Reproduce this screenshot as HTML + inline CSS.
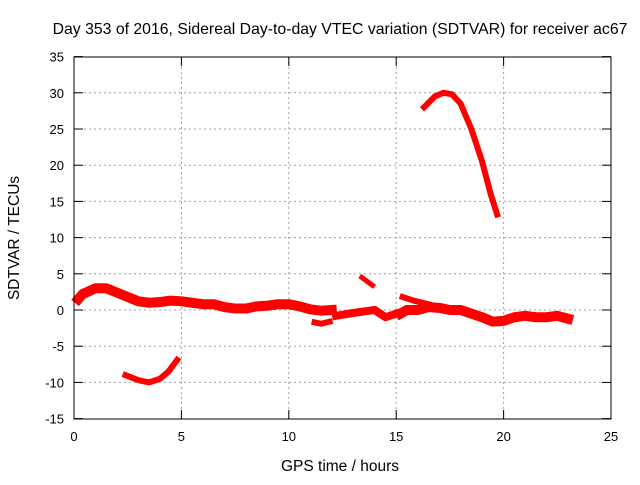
<!DOCTYPE html>
<html><head><meta charset="utf-8"><style>
body{margin:0;background:#fff}
text{font-family:"Liberation Sans",sans-serif;font-size:13px;fill:#000}
</style></head><body>
<svg id="c" width="640" height="480">
<g id="grid"></g>
<g id="marks"></g>
<rect x="74" y="57" width="537" height="362" fill="none" stroke="#000"/>
<g id="ticks"></g>
<text x="340" y="34" text-anchor="middle" style="font-size:15.8px">Day 353 of 2016, Sidereal Day-to-day VTEC variation (SDTVAR) for receiver ac67</text>
<text x="340" y="471" text-anchor="middle" style="font-size:15.5px">GPS time / hours</text>
<text transform="translate(19,238) rotate(-90)" text-anchor="middle" style="font-size:15.5px">SDTVAR / TECUs</text>
</svg>
<script>
const xTicks=[0,5,10,15,20,25];
const yTicks=[-15,-10,-5,0,5,10,15,20,25,30,35];
const segMain1=[[0.2,1.5],[0.4,2.2],[0.7,2.6],[1,3],[1.5,3],[2,2.4],[2.5,1.8],[3,1.2],[3.5,1],[4,1.1],[4.5,1.3],[5,1.2],[5.5,1],[6,0.8],[6.5,0.8],[7,0.4],[7.5,0.2],[8,0.2],[8.5,0.5],[9,0.6],[9.5,0.8],[10,0.8],[10.5,0.5],[11,0.1],[11.5,-0.1],[12,0]];
const segDip=[[11.2,-1.7],[11.5,-1.9],[11.9,-1.6]];
const segMain2=[[12.2,-0.8],[12.8,-0.5],[13.5,-0.2],[14,0],[14.5,-1],[15,-0.5]];
const segMain3=[[15.2,-0.5],[15.5,0],[16,0],[16.5,0.4],[17,0.3],[17.5,0],[18,0],[18.5,-0.5],[19,-1],[19.5,-1.6],[20,-1.5],[20.5,-1],[21,-0.8],[21.5,-1],[22,-1],[22.5,-0.8],[23,-1.2]];
const segBranch=[[15.3,1.8],[15.8,1.3],[16.5,0.8]];
const segSmall=[[13.4,4.5],[13.9,3.4]];
const segLow=[[2.4,-9],[3,-9.7],[3.5,-10],[4,-9.5],[4.4,-8.5],[4.8,-6.9]];
const segHigh=[[16.3,28],[16.8,29.5],[17.2,30],[17.6,29.8],[18,28.5],[18.5,25],[19,20.5],[19.4,16],[19.7,13.2]];
const X=v=>74+v*537/25, Y=v=>310-v*362/50;
const ns="http://www.w3.org/2000/svg";
const grid=document.getElementById('grid'),tk=document.getElementById('ticks'),mk=document.getElementById('marks');
function mk_(tag,at,p){const e=document.createElementNS(ns,tag);for(const k in at)e.setAttribute(k,at[k]);p.appendChild(e);return e;}
xTicks.forEach(v=>{
 if(v>0&&v<25){const l=mk_('line',{x1:X(v),x2:X(v),y1:57,y2:419,stroke:'#a0a0a0','stroke-dasharray':'2,3'},grid);
 
 }
 mk_('line',{x1:X(v),x2:X(v),y1:419,y2:410,stroke:'#000'},tk);
 mk_('line',{x1:X(v),x2:X(v),y1:57,y2:66,stroke:'#000'},tk);
 const t=mk_('text',{x:X(v),y:441,'text-anchor':'middle'},tk);t.textContent=v;
 
 
});
yTicks.forEach(v=>{
 if(v>-15&&v<35){const l=mk_('line',{x1:74,x2:611,y1:Y(v),y2:Y(v),stroke:'#a0a0a0','stroke-dasharray':'2,3'},grid);
 
 }
 mk_('line',{x1:74,x2:83,y1:Y(v),y2:Y(v),stroke:'#000'},tk);
 mk_('line',{x1:602,x2:611,y1:Y(v),y2:Y(v),stroke:'#000'},tk);
 const t=mk_('text',{x:64,y:Y(v)+5,'text-anchor':'end'},tk);t.textContent=v;
 
 
});
[[segMain1,10],[segDip,6],[segMain2,8],[segMain3,10],[segBranch,6],[segSmall,5],[segLow,6],[segHigh,6]].forEach(([s,w])=>{
 const p=mk_('polyline',{points:s.map(d=>X(d[0])+','+Y(d[1])).join(' '),fill:'none',stroke:'#f00','stroke-width':w,'stroke-linejoin':'round','stroke-linecap':'square'},mk);
 
 
});
</script>
</body></html>
